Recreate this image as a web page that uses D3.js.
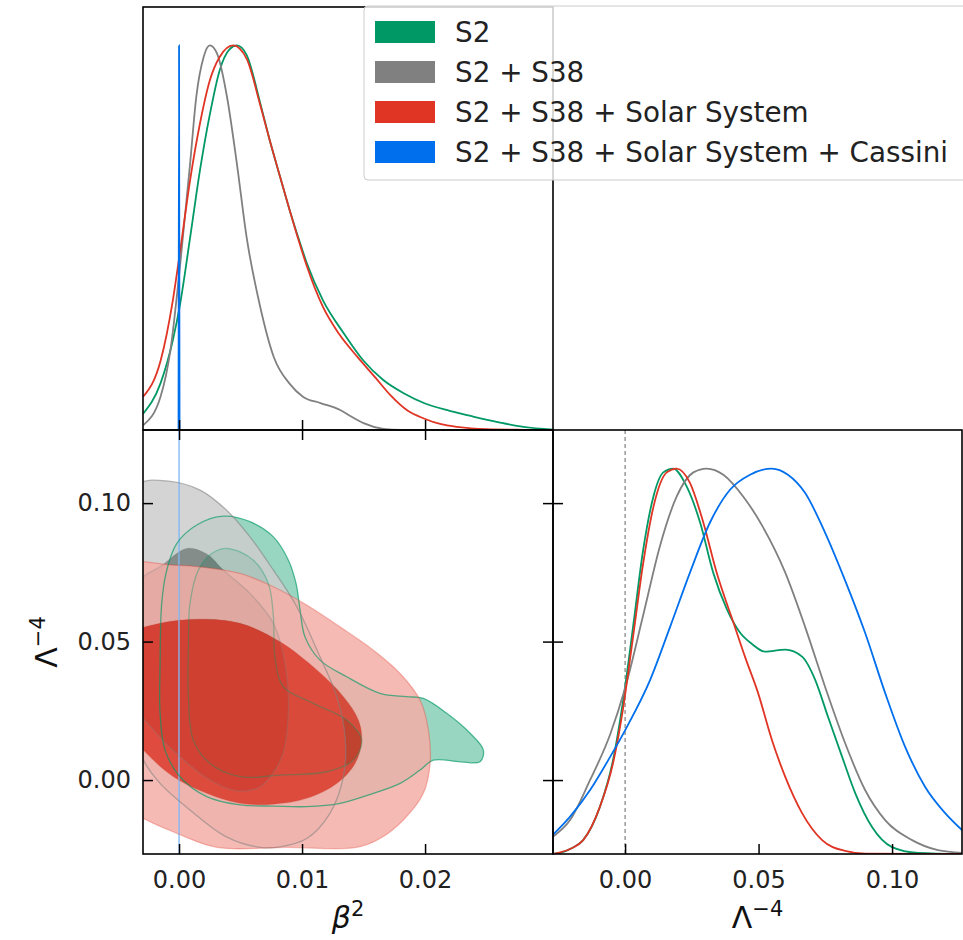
<!DOCTYPE html>
<html>
<head>
<meta charset="utf-8">
<script src="https://cdn.jsdelivr.net/npm/d3@7"></script>
<style>
    body { margin: 0; background: #fff; }
    text { font-family: "DejaVu Sans", sans-serif; }
</style>
</head>
<body>
<svg id="chart" width="963" height="940"></svg>
<script>
const series = ["S2", "S2 + S38", "S2 + S38 + Solar System", "S2 + S38 + Solar System + Cassini"];
const colors = ["#009966", "#808080", "#E03424", "#006FED"];
const betaTicks = [0.00, 0.01, 0.02];
const lambdaTicks = [0.00, 0.05, 0.10];
const lambdaMarker = 0.0;

// 1D marginals of beta^2, [beta^2, P/Pmax]
const betaS2 = [[-0.0029,0.043],[-0.0015,0.122],[-0.0005,0.234],[0.0001,0.33],[0.0009,0.50],[0.0017,0.675],
    [0.0025,0.82],[0.0033,0.935],[0.0041,0.99],[0.0047,1.0],[0.0055,0.975],[0.0066,0.85],[0.0074,0.75],
    [0.0082,0.66],[0.0090,0.571],[0.0098,0.49],[0.0104,0.433],[0.0117,0.337],[0.0134,0.251],[0.0150,0.18],
    [0.0166,0.13],[0.0183,0.095],[0.0200,0.069],[0.0220,0.05],[0.0239,0.035],[0.0260,0.02],[0.0280,0.008],
    [0.0304,0.001]];
const betaS38 = [[-0.0029,0.013],[-0.0015,0.087],[-0.0007,0.208],[0.0001,0.433],[0.0009,0.693],[0.0014,0.866],
    [0.0020,0.97],[0.0025,1.0],[0.0031,0.978],[0.0039,0.866],[0.0047,0.693],[0.0055,0.50],[0.0066,0.32],
    [0.0077,0.19],[0.0090,0.12],[0.0101,0.086],[0.0115,0.07],[0.0131,0.052],[0.0140,0.035],[0.0150,0.018],
    [0.0166,0.003],[0.0180,0],[0.0304,0]];
const betaSolar = [[-0.0029,0.087],[-0.0015,0.18],[-0.0005,0.338],[0.0001,0.468],[0.0009,0.65],[0.0017,0.797],
    [0.0025,0.909],[0.0033,0.97],[0.0044,1.0],[0.0055,0.965],[0.0066,0.845],[0.0074,0.75],[0.0082,0.66],
    [0.0090,0.571],[0.0098,0.485],[0.0104,0.425],[0.0117,0.32],[0.0130,0.25],[0.0145,0.19],[0.0160,0.135],
    [0.0172,0.09],[0.0186,0.05],[0.0199,0.03],[0.0213,0.015],[0.0226,0.008],[0.0250,0.002],[0.0280,0.0005],
    [0.0304,0]];
const betaCassini = [[-0.00004,0],[0,1],[0.00004,0]];

// 1D marginals of Lambda^-4
const lambdaS2 = [[-0.0270,0],[-0.0243,0.003],[-0.0200,0.015],[-0.0157,0.036],[-0.0094,0.123],[-0.0045,0.244],
    [-0.0007,0.40],[0.0030,0.59],[0.0068,0.79],[0.0106,0.927],[0.0143,0.99],[0.0180,1.0],[0.0231,0.953],
    [0.0281,0.86],[0.0330,0.73],[0.0382,0.634],[0.0431,0.574],[0.0475,0.545],[0.0524,0.525],[0.0600,0.53],
    [0.0663,0.512],[0.0712,0.452],[0.0760,0.356],[0.0813,0.252],[0.0862,0.158],[0.0925,0.07],[0.1000,0.018],
    [0.1097,0.003],[0.1262,0]];
const lambdaS38 = [[-0.0270,0.045],[-0.0206,0.088],[-0.0131,0.192],[-0.0056,0.31],[0.0000,0.43],[0.0068,0.62],
    [0.0131,0.80],[0.0193,0.927],[0.0256,0.99],[0.0306,1.0],[0.0368,0.984],[0.0443,0.927],[0.0515,0.85],
    [0.0600,0.73],[0.0674,0.59],[0.0749,0.434],[0.0824,0.288],[0.0899,0.166],[0.0974,0.088],[0.1075,0.036],
    [0.1172,0.01],[0.1262,0.003]];
const lambdaSolar = [[-0.0270,0],[-0.0243,0.004],[-0.0200,0.015],[-0.0157,0.036],[-0.0094,0.123],[-0.0045,0.236],
    [-0.0007,0.38],[0.0030,0.564],[0.0068,0.755],[0.0106,0.90],[0.0156,0.99],[0.0193,1.0],[0.0243,0.963],
    [0.0293,0.86],[0.0343,0.73],[0.0406,0.60],[0.0450,0.51],[0.0498,0.418],[0.0550,0.296],[0.0600,0.20],
    [0.0663,0.106],[0.0738,0.036],[0.0824,0.008],[0.0900,0.001],[0.1262,0]];
const lambdaCassini = [[-0.0270,0.05],[-0.0206,0.097],[-0.0131,0.166],[-0.0056,0.252],[0.0007,0.33],[0.0094,0.452],
    [0.0169,0.59],[0.0243,0.73],[0.0318,0.86],[0.0393,0.945],[0.0468,0.984],[0.0550,1.0],[0.0610,0.984],
    [0.0674,0.937],[0.0749,0.834],[0.0824,0.71],[0.0899,0.574],[0.0974,0.418],[0.1049,0.278],[0.1124,0.174],
    [0.1199,0.106],[0.1262,0.062]];

// 2D contours [beta^2, Lambda^-4]: outer = 95%, inner = 68%
const contS2Outer = [[0.00360,0.0953],[0.00577,0.0933],[0.00767,0.0878],[0.00889,0.0794],[0.00951,0.0710],
    [0.00984,0.0614],[0.01024,0.0517],[0.01146,0.0433],[0.01363,0.0373],[0.01634,0.0313],[0.01851,0.0301],
    [0.01986,0.0295],[0.02176,0.0241],[0.02366,0.0169],[0.02474,0.0108],[0.02447,0.0066],[0.02285,0.0066],
    [0.02068,0.0072],[0.01959,0.0036],[0.01797,-0.0012],[0.01580,-0.0048],[0.01309,-0.0084],[0.01038,-0.0096],
    [0.00767,-0.0094],[0.00496,-0.0090],[0.00225,-0.0060],[0.00008,0.0012],[-0.00114,0.0108],[-0.00154,0.0241],
    [-0.00154,0.0421],[-0.00141,0.0638],[-0.00100,0.0758],[-0.00019,0.0854],[0.00144,0.0921]];
const contS2Inner = [[0.00401,0.0836],[0.00604,0.0794],[0.00726,0.0710],[0.00767,0.0590],[0.00780,0.0445],
    [0.00848,0.0337],[0.01092,0.0277],[0.01363,0.0217],[0.01485,0.0144],[0.01417,0.0072],[0.01201,0.0030],
    [0.00821,0.0018],[0.00496,0.0012],[0.00252,0.0060],[0.00116,0.0144],[0.00076,0.0301],[0.00076,0.0481],
    [0.00089,0.0638],[0.00157,0.0758],[0.00266,0.0818]];
const contS38Outer = [[-0.00317,0.1072],[-0.00100,0.1080],[0.00171,0.1047],[0.00385,0.0975],[0.00577,0.0878],
    [0.00767,0.0758],[0.00957,0.0626],[0.01146,0.0445],[0.01282,0.0301],[0.01350,0.0157],[0.01336,0.0012],
    [0.01227,-0.0120],[0.01038,-0.0211],[0.00821,-0.0241],[0.00659,-0.0243],[0.00385,-0.0205],[0.00089,-0.0108],
    [-0.00154,-0.0012],[-0.00290,0.0072],[-0.00370,0.0181],[-0.00420,0.0600],[-0.00400,0.1000]];
const contS38Inner = [[0.00063,0.0836],[0.00225,0.0816],[0.00360,0.0758],[0.00577,0.0674],[0.00767,0.0566],
    [0.00862,0.0421],[0.00889,0.0253],[0.00835,0.0084],[0.00659,-0.0024],[0.00469,-0.0039],[0.00252,0.0000],
    [0.00008,0.0084],[-0.00209,0.0181],[-0.00398,0.0301],[-0.00425,0.0542],[-0.00317,0.0722],[-0.00154,0.0770]];
const contSolarOuter = [[-0.00480,0.0770],[-0.00046,0.0776],[0.00225,0.0767],[0.00496,0.0746],[0.00767,0.0698],
    [0.01038,0.0632],[0.01309,0.0553],[0.01580,0.0469],[0.01797,0.0385],[0.01959,0.0289],[0.02027,0.0181],
    [0.02041,0.0060],[0.01986,-0.0048],[0.01824,-0.0144],[0.01634,-0.0211],[0.01445,-0.0243],[0.00880,-0.0243],
    [0.00306,-0.0243],[-0.00046,-0.0187],[-0.00317,-0.0132],[-0.00480,-0.0084],[-0.00560,0.0340]];
const contSolarInner = [[-0.00425,0.0517],[-0.00154,0.0566],[0.00171,0.0581],[0.00496,0.0566],[0.00821,0.0499],
    [0.01120,0.0397],[0.01336,0.0301],[0.01458,0.0217],[0.01485,0.0144],[0.01431,0.0060],[0.01282,-0.0012],
    [0.01038,-0.0066],[0.00767,-0.0087],[0.00496,-0.0084],[0.00225,-0.0048],[-0.00046,0.0012],[-0.00263,0.0096],
    [-0.00425,0.0181],[-0.00480,0.0350]];
const contCassiniOuter = [[-0.00007,-0.04],[0.00007,-0.04],[0.00007,0.14],[-0.00007,0.14]];
const contCassiniInner = [[-0.00001,-0.04],[0.00001,-0.04],[0.00001,0.14],[-0.00001,0.14]];

const betaCurves = [betaS2, betaS38, betaSolar, betaCassini];
const lambdaCurves = [lambdaS2, lambdaS38, lambdaSolar, lambdaCassini];
const contours = [
    [contS2Outer, contS2Inner],
    [contS38Outer, contS38Inner],
    [contSolarOuter, contSolarInner],
    [contCassiniOuter, contCassiniInner]
];

// getdist-like drawing styles
const fillAlpha = [1, 0.85, 0.85, 0.85];
const lineAlpha = [0.65, 0.55, 0.3, 0];
const smoothCurve = d3.curveCatmullRomClosed.alpha(0.5);
const contourCurves = [smoothCurve, smoothCurve, smoothCurve, d3.curveLinearClosed];

const panel = {left: 143, mid: 553, right: 962, top: 7, row: 430, bottom: 854};
const tickLen = 10;

const svg = d3.select("#chart");

const xBeta = d3.scaleLinear().domain([-0.00293, 0.0304]).range([panel.left, panel.mid]);
const xLam = d3.scaleLinear().domain([-0.027, 0.1262]).range([panel.mid, panel.right]);
const yLam = d3.scaleLinear().domain([-0.0267, 0.1264]).range([panel.bottom, panel.row]);
const yTop = d3.scaleLinear().domain([0, 1.1]).range([panel.row, panel.top]);
const yBot = d3.scaleLinear().domain([0, 1.1]).range([panel.bottom, panel.row]);

const defs = svg.append("defs");
function addClip(id, x0, y0, x1, y1) {
    defs.append("clipPath").attr("id", id)
            .append("rect")
            .attr("x", x0).attr("y", y0)
            .attr("width", x1 - x0).attr("height", y1 - y0);
}
addClip("clipTop", panel.left, panel.top, panel.mid, panel.row);
addClip("clipBL", panel.left, panel.row, panel.mid, panel.bottom);
addClip("clipBR", panel.mid, panel.row, panel.right, panel.bottom);

// --- 2D panel
const gBL = svg.append("g").attr("clip-path", "url(#clipBL)");
function contourPath(points, i) {
    return d3.line()
            .x(function(d) { return xBeta(d[0]); })
            .y(function(d) { return yLam(d[1]); })
            .curve(contourCurves[i])(points);
}

contours.forEach(function(c, i) {
    const pale = d3.interpolateRgb(colors[i], "#ffffff")(0.6);
    // outer band as a ring so the inner region sits straight on what is below
    gBL.append("path")
            .attr("d", contourPath(c[0], i) + contourPath(c[1], i))
            .attr("fill", pale)
            .attr("fill-rule", "evenodd")
            .attr("fill-opacity", fillAlpha[i]);
    gBL.append("path")
            .attr("d", contourPath(c[1], i))
            .attr("fill", colors[i])
            .attr("fill-opacity", fillAlpha[i]);
});
contours.forEach(function(c, i) {
    c.forEach(function(level, k) {
        gBL.append("path")
                .attr("d", contourPath(level, i))
                .attr("fill", "none")
                .attr("stroke", colors[i])
                .attr("stroke-width", 1.3)
                .attr("stroke-opacity", k === 0 ? lineAlpha[i] : lineAlpha[i] * 0.55);
    });
});

// --- 1D panels
const gTop = svg.append("g").attr("clip-path", "url(#clipTop)");
const betaLine = d3.line()
        .x(function(d) { return xBeta(d[0]); })
        .y(function(d) { return yTop(d[1]); })
        .curve(d3.curveMonotoneX);
betaCurves.forEach(function(c, i) {
    gTop.append("path")
            .attr("d", betaLine(c))
            .attr("fill", "none")
            .attr("stroke", colors[i])
            .attr("stroke-width", 1.8);
});

const gBR = svg.append("g").attr("clip-path", "url(#clipBR)");
gBR.append("line")
        .attr("x1", xLam(lambdaMarker)).attr("x2", xLam(lambdaMarker))
        .attr("y1", panel.row).attr("y2", panel.bottom)
        .attr("stroke", "#666")
        .attr("stroke-width", 1)
        .attr("stroke-dasharray", "4,3");
const lambdaLine = d3.line()
        .x(function(d) { return xLam(d[0]); })
        .y(function(d) { return yBot(d[1]); })
        .curve(d3.curveMonotoneX);
lambdaCurves.forEach(function(c, i) {
    gBR.append("path")
            .attr("d", lambdaLine(c))
            .attr("fill", "none")
            .attr("stroke", colors[i])
            .attr("stroke-width", 1.8);
});

// --- frames and ticks
function frame(x0, y0, x1, y1) {
    svg.append("rect")
            .attr("x", x0).attr("y", y0)
            .attr("width", x1 - x0).attr("height", y1 - y0)
            .attr("fill", "none")
            .attr("stroke", "#000")
            .attr("stroke-width", 1.6);
}
frame(panel.left, panel.top, panel.mid, panel.row);
frame(panel.left, panel.row, panel.mid, panel.bottom);
frame(panel.mid, panel.row, panel.right, panel.bottom);

function addAxis(axis, tx, ty, labels, pad) {
    axis.tickSizeInner(-tickLen).tickSizeOuter(0).tickPadding(pad || 0);
    if (!labels) {
        axis.tickFormat("");
    } else {
        axis.tickFormat(d3.format(".2f"));
    }
    const g = svg.append("g")
            .attr("transform", "translate(" + tx + "," + ty + ")")
            .call(axis);
    g.select(".domain").remove();
    g.selectAll(".tick line").attr("stroke", "#000").attr("stroke-width", 1.5);
    g.selectAll(".tick text")
            .attr("fill", "#222")
            .style("font-family", "'DejaVu Sans', sans-serif")
            .style("font-size", "24px");
    return g;
}
addAxis(d3.axisBottom(xBeta).tickValues(betaTicks), 0, panel.row, false);
addAxis(d3.axisTop(xBeta).tickValues(betaTicks), 0, panel.row, false);
addAxis(d3.axisBottom(xBeta).tickValues(betaTicks), 0, panel.bottom, true, 17);
addAxis(d3.axisLeft(yLam).tickValues(lambdaTicks), panel.left, 0, true, 12);
addAxis(d3.axisRight(yLam).tickValues(lambdaTicks), panel.mid, 0, false);
addAxis(d3.axisLeft(yLam).tickValues(lambdaTicks), panel.mid, 0, false);
addAxis(d3.axisBottom(xLam).tickValues(lambdaTicks), 0, panel.bottom, true, 17);

// --- axis labels
const xl1 = svg.append("text")
        .attr("x", (panel.left + panel.mid) / 2)
        .attr("y", 928)
        .attr("text-anchor", "middle")
        .style("font-size", "30px")
        .attr("fill", "#111");
xl1.append("tspan").text("β").style("font-style", "italic");
xl1.append("tspan").text("2").attr("dy", -12).style("font-size", "21px");

const xl2 = svg.append("text")
        .attr("x", (panel.mid + panel.right) / 2)
        .attr("y", 928)
        .attr("text-anchor", "middle")
        .style("font-size", "30px")
        .attr("fill", "#111");
xl2.append("tspan").text("Λ");
xl2.append("tspan").text("−4").attr("dy", -12).style("font-size", "21px");

const yl = svg.append("text")
        .attr("transform", "translate(57," + (panel.row + panel.bottom) / 2 + ") rotate(-90)")
        .attr("text-anchor", "middle")
        .style("font-size", "30px")
        .attr("fill", "#111");
yl.append("tspan").text("Λ");
yl.append("tspan").text("−4").attr("dy", -12).style("font-size", "21px");

// --- legend
const legend = svg.append("g").attr("transform", "translate(364,6)");
legend.append("rect")
        .attr("width", 620).attr("height", 174)
        .attr("rx", 4)
        .attr("fill", "#fff").attr("fill-opacity", 0.8)
        .attr("stroke", "#ccc");
series.forEach(function(name, i) {
    const cy = 26 + i * 40;
    legend.append("rect")
            .attr("x", 11).attr("y", cy - 11)
            .attr("width", 60).attr("height", 22)
            .attr("fill", colors[i]);
    legend.append("text")
            .attr("x", 91).attr("y", cy + 10)
            .style("font-size", "27.8px")
            .attr("fill", "#222")
            .text(name);
});
</script>
</body>
</html>
